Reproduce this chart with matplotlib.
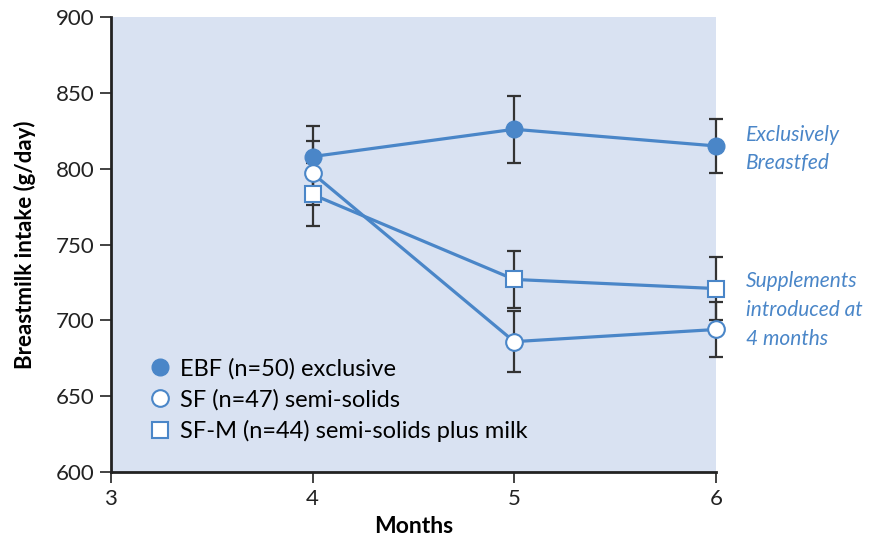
import matplotlib
matplotlib.use("Agg")
import matplotlib.pyplot as plt

plt.rcParams['font.family'] = ['Lato', 'DejaVu Sans']

months = [4, 5, 6]

ebf_mean = [808, 826, 815]
ebf_err = [20, 22, 18]

sf_mean = [797, 686, 694]
sf_err = [21, 20, 18]

sfm_mean = [783, 727, 721]
sfm_err = [21, 19, 21]

labels = ["EBF (n=50) exclusive", "SF (n=47) semi-solids", "SF-M (n=44) semi-solids plus milk"]

blue = '#4A86C8'
bg = '#D9E2F2'
errc = '#333333'

fig = plt.figure(figsize=(8.73, 5.42), dpi=100)
ax = fig.add_axes([0.127, 0.129, 0.693, 0.8396])
ax.set_facecolor(bg)

# error bars first (drawn behind lines and markers)
for mean, err in [(ebf_mean, ebf_err), (sf_mean, sf_err), (sfm_mean, sfm_err)]:
    eb = ax.errorbar(months, mean, yerr=err, fmt='none', ecolor=errc, elinewidth=1.6,
                     capsize=5, capthick=1.6, zorder=2)
    for art in eb.lines[1] + eb.lines[2]:
        art.set_clip_on(False)

ax.plot(months, ebf_mean, color=blue, lw=2.3, marker='o', ms=12,
        mfc=blue, mec=blue, label=labels[0], zorder=3, clip_on=False)
ax.plot(months, sf_mean, color=blue, lw=2.3, marker='o', ms=12,
        mfc='white', mec=blue, mew=1.5, label=labels[1], zorder=4, clip_on=False)
ax.plot(months, sfm_mean, color=blue, lw=2.3, marker='s', ms=12,
        mfc='white', mec=blue, mew=1.5, label=labels[2], zorder=4, clip_on=False)

ax.set_xlim(3, 6)
ax.set_ylim(600, 900)
ax.set_xticks([3, 4, 5, 6])
ax.set_yticks(range(600, 901, 50))

for s in ['top', 'right']:
    ax.spines[s].set_visible(False)
for s in ['left', 'bottom']:
    ax.spines[s].set_linewidth(2)
    ax.spines[s].set_color('#222222')
ax.tick_params(axis='both', direction='out', length=8, width=1.2,
               labelsize=16, colors='#222222', pad=4)

ax.set_xlabel('Months', fontsize=16.5, fontweight='bold', labelpad=5)
ax.set_ylabel('Breastmilk intake (g/day)', fontsize=16, fontweight='bold', labelpad=14)

leg = ax.legend(loc='lower left', bbox_to_anchor=(0.05, 0.045), frameon=False,
                fontsize=17, handlelength=0.8, handletextpad=0.45,
                labelspacing=0.4, borderaxespad=0)
for line in leg.get_lines():
    line.set_linestyle('none')

ax.text(6.15, 813, 'Exclusively\nBreastfed', color=blue, fontsize=15,
        style='italic', va='center', ha='left', linespacing=1.55, clip_on=False)
ax.text(6.15, 707, 'Supplements\nintroduced at\n4 months', color=blue, fontsize=15,
        style='italic', va='center', ha='left', linespacing=1.55, clip_on=False)

fig.savefig('out.png', dpi=100)
